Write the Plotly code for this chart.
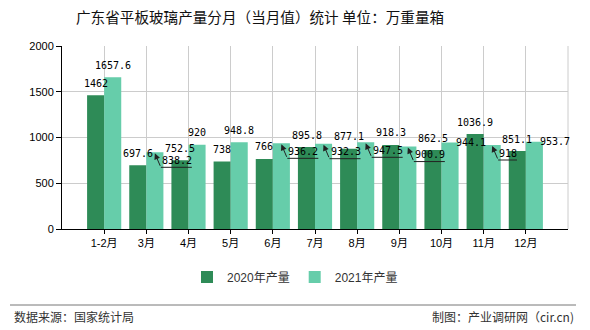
import plotly.graph_objects as go

categories = ["1-2月", "3月", "4月", "5月", "6月", "7月", "8月", "9月", "10月", "11月", "12月"]
v2020 = [1462, 697.6, 752.5, 738, 766, 895.8, 877.1, 918.3, 862.5, 1036.9, 851.1]
v2021 = [1657.6, 838.2, 920, 948.8, 936.2, 932.3, 947.5, 900.9, 944.1, 918, 953.7]
# label placement style for 2021 labels (collision-avoidance look of the original)
mode2021 = ["top", "lead", "top", "top", "lead", "lead", "lead", "lead", "side", "lead", "side"]
y_ticks = [0, 500, 1000, 1500, 2000]

C2020 = "#2E8B57"
C2021 = "#66CDAA"
BASE_FONT = "Liberation Sans, Noto Sans CJK SC, sans-serif"
LABEL_FONT = dict(family="DejaVu Sans Mono, monospace", size=10, color="#000")
HALF = 8.5  # half a bar width in px

fig = go.Figure()
fig.add_trace(go.Bar(x=categories, y=v2020, name="2020年产量", marker_color=C2020,
                     marker_line_width=0, hoverinfo="x+y"))
fig.add_trace(go.Bar(x=categories, y=v2021, name="2021年产量", marker_color=C2021,
                     marker_line_width=0, hoverinfo="x+y"))

ann = []
def fmt(v):
    return f"{v:g}"

for c, v in zip(categories, v2020):
    ann.append(dict(x=c, y=v, text=fmt(v), showarrow=False, xshift=-HALF, yshift=12,
                    xanchor="center", yanchor="middle", font=LABEL_FONT))

for c, v, m in zip(categories, v2021, mode2021):
    t = fmt(v)
    if m == "top":
        ann.append(dict(x=c, y=v, text=t, showarrow=False, xshift=HALF, yshift=12,
                        xanchor="center", yanchor="middle", font=LABEL_FONT))
    elif m == "side":
        ann.append(dict(x=c, y=v, text=t, showarrow=False, xshift=HALF + 4, yshift=0,
                        xanchor="left", yanchor="middle", font=LABEL_FONT))
    else:
        ann.append(dict(x=c, y=v, text=t, showarrow=False, xshift=HALF + 5, yshift=-8,
                        xanchor="left", yanchor="middle", font=LABEL_FONT))
        # leader: diagonal with arrow head at bar top
        ann.append(dict(x=c, y=v, text="", showarrow=True, xshift=HALF, yshift=-1,
                        ax=6, ay=14, axref="pixel", ayref="pixel",
                        arrowhead=2, arrowsize=1.2, arrowwidth=1, arrowcolor="#222", standoff=0))
        # leader: horizontal underline
        ann.append(dict(x=c, y=v, text="", showarrow=True, xshift=HALF + 6, yshift=-15,
                        ax=6.1 * len(t) + 2, ay=0, axref="pixel", ayref="pixel",
                        arrowhead=0, arrowwidth=1, arrowcolor="#222", standoff=0))

# footer texts
ann.append(dict(xref="paper", yref="paper", x=(12 - 62) / 506, y=-(316 - 229) / 183,
                text="数据来源：国家统计局", showarrow=False, xanchor="left", yanchor="middle",
                font=dict(family="Noto Sans CJK SC, sans-serif", size=12, color="#333")))
ann.append(dict(xref="paper", yref="paper", x=(576 - 62) / 506, y=-(316 - 229) / 183,
                text="制图：产业调研网（cir.cn)", showarrow=False, xanchor="right", yanchor="middle",
                font=dict(family="Noto Sans CJK SC, sans-serif", size=12, color="#333")))

shapes = [
    dict(type="line", xref="paper", yref="paper", x0=1, x1=1, y0=0, y1=1,
         line=dict(color="#ccc", width=1)),
    dict(type="line", xref="paper", yref="paper", x0=(10 - 62) / 506, x1=(576 - 62) / 506,
         y0=-(305 - 229) / 183, y1=-(305 - 229) / 183, line=dict(color="#777", width=1)),
]

fig.update_layout(
    width=590, height=330,
    margin=dict(l=62, r=22, t=46, b=101),
    paper_bgcolor="white", plot_bgcolor="white",
    font=dict(family=BASE_FONT, size=11, color="#333"),
    title=dict(text="广东省平板玻璃产量分月（当月值）统计 单位：万重量箱",
               x=76 / 590, xanchor="left", xref="container",
               y=1 - 18 / 330, yanchor="middle", yref="container",
               font=dict(family="Noto Sans CJK SC, sans-serif", size=14.6, color="#111")),
    barmode="group", bargap=0.19, bargroupgap=0,
    showlegend=True,
    legend=dict(orientation="h", x=0.5, xanchor="center", xref="container",
                y=1 - 277 / 330, yanchor="middle", yref="container",
                font=dict(family=BASE_FONT, size=12, color="#333"),
                itemsizing="constant"),
    annotations=ann, shapes=shapes,
)
fig.update_xaxes(type="category", range=[-1, 11], showgrid=True, gridcolor="#ccc", gridwidth=1,
                 showline=True, linecolor="#000", linewidth=1, ticks="outside", ticklen=4,
                 tickcolor="#000", tickfont=dict(size=11, color="#000"), zeroline=False,
                 fixedrange=True)
fig.update_yaxes(range=[0, 2000], tickvals=y_ticks, showgrid=True, gridcolor="#ccc", gridwidth=1,
                 showline=True, linecolor="#000", linewidth=1, ticks="outside", ticklen=5,
                 tickcolor="#000", tickfont=dict(size=11, color="#000"), zeroline=False,
                 fixedrange=True)

fig.write_html("out.html", config={"displayModeBar": False})
